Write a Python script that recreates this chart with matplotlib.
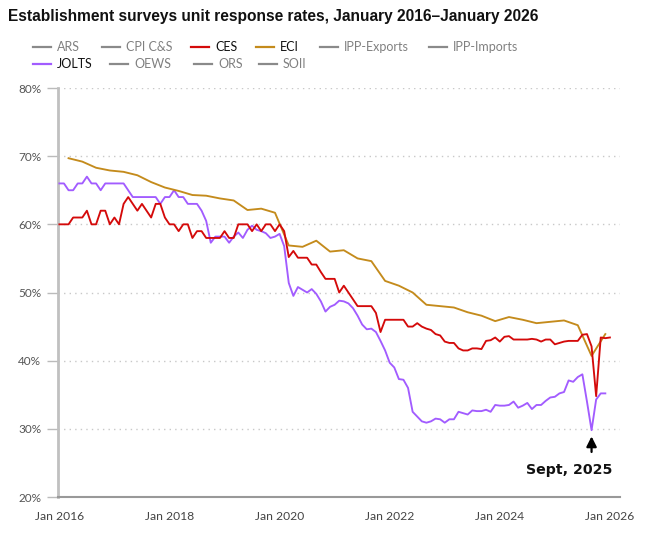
import matplotlib
matplotlib.use("Agg")
import matplotlib.pyplot as plt
from matplotlib.lines import Line2D
import numpy as np

# ---------------- data (month index 0 = Jan 2016) ----------------
jolts = [66, 66, 65, 65, 66, 66, 67, 66, 66, 65, 66, 66, 66, 66, 66, 65,
         64, 64, 64, 64, 64, 64, 63, 64, 64, 65, 64, 64, 63, 63, 63, 62,
         60.5, 57.3, 58.2, 58.2, 58.2, 57.3, 58.2, 58.8, 58.0, 59.2, 59.8, 59.2, 59.0, 58.7,
         58.0, 58.2, 58.6, 56.8, 51.4, 49.5, 50.8, 50.4, 50.0, 50.5, 49.8, 48.7,
         47.2, 47.9, 48.2, 48.8, 48.7, 48.4, 47.7, 46.6, 45.3, 44.6, 44.7, 44.2,
         42.9, 41.5, 39.7, 39.0, 37.3, 37.2, 36.0, 32.5, 31.8, 31.1, 30.9, 31.1,
         31.5, 31.4, 30.9, 31.4, 31.4, 32.5, 32.3, 32.1, 32.7, 32.6, 32.6, 32.8,
         32.5, 33.5, 33.4, 33.4, 33.5, 34.0, 33.1, 33.4, 33.8, 32.9, 33.5, 33.5,
         34.1, 34.6, 34.7, 35.2, 35.4, 37.1, 36.9, 37.6, 38.0, 34.0, 29.8, 34.3,
         35.2, 35.2]

ces = [60, 60, 60, 61, 61, 61, 62, 60, 60, 62, 62, 60, 61, 60, 63, 64,
       63, 62, 63, 62, 61, 63, 63, 61, 60, 60, 59, 60, 60, 58, 59, 59,
       58, 58, 58, 58, 59, 58, 58, 60, 60, 60, 59, 60, 59, 60, 60, 59,
       60, 59, 55.2, 56.1, 55.1, 55.1, 55.1, 54.1, 54.1, 53.0, 52.0, 52.0,
       52.0, 50.0, 51.0, 50.0, 49.0, 48.0, 48.0, 48.0, 48.0, 47.0, 44.2, 46.0,
       46.0, 46.0, 46.0, 46.0, 45.0, 45.0, 45.5, 45.0, 44.7, 44.5, 43.9, 43.7,
       42.8, 42.6, 42.6, 41.8, 41.5, 41.5, 41.8, 41.8, 41.7, 42.9, 43.0, 43.4,
       42.8, 43.5, 43.6, 43.1, 43.1, 43.1, 43.1, 43.2, 43.1, 42.8, 43.1, 43.1,
       42.4, 42.6, 42.8, 42.9, 42.9, 42.9, 43.8, 43.9, 42.1, 34.8, 43.4, 43.3,
       43.4]

eci_months = [2, 5, 8, 11, 14, 17, 20, 23, 26, 29, 32, 35, 38, 41, 44, 47,
              50, 53, 56, 59, 62, 65, 68, 71, 74, 77, 80, 83, 86, 89, 92, 95,
              98, 101, 104, 107, 110, 113, 116, 119]
eci = [69.7, 69.2, 68.3, 67.9, 67.7, 67.2, 66.2, 65.4, 64.9, 64.3, 64.2, 63.8,
       63.5, 62.1, 62.3, 61.7, 56.9, 56.7, 57.6, 56.0, 56.2, 55.0, 54.6, 51.7,
       51.0, 50.0, 48.2, 48.0, 47.8, 47.1, 46.6, 45.8, 46.4, 46.0, 45.5, 45.7,
       45.9, 45.2, 40.7, 43.9]

tick_months = [0, 24, 48, 72, 96, 120]
tick_labels = ["Jan 2016", "Jan 2018", "Jan 2020", "Jan 2022", "Jan 2024", "Jan 2026"]
y_ticks = [20, 30, 40, 50, 60, 70, 80]

legend_row1 = ["ARS", "CPI C&S", "CES", "ECI", "IPP-Exports", "IPP-Imports"]
legend_row2 = ["JOLTS", "OEWS", "ORS", "SOII"]

C_CES = "#d40a0a"
C_ECI = "#c48b1c"
C_JOLTS = "#a25cff"
C_GRAY = "#8a8a8a"

FONT = "Lato"

# ---------------- figure ----------------
W, H = 650, 536
fig = plt.figure(figsize=(W / 100, H / 100), dpi=100)

def fx(x):
    return x / W

def fy(y):
    return 1 - y / H

ax = fig.add_axes([fx(58), fy(497), fx(620) - fx(58), fy(88) - fy(497)])

LW = 1.35
ax.plot(range(len(jolts)), jolts, color=C_JOLTS, lw=LW, zorder=3)
ax.plot(range(len(ces)), ces, color=C_CES, lw=LW, zorder=4)
ax.plot(eci_months, eci, color=C_ECI, lw=LW, zorder=3)

ax.set_xlim(-0.3, 122.2)
ax.set_ylim(20, 80)
ax.set_yticks(y_ticks)
ax.set_yticklabels([f"{v}%" for v in y_ticks], fontsize=8.5, color="#555555", family=FONT)
ax.set_xticks(tick_months)
ax.set_xticklabels(tick_labels, fontsize=8.7, color="#444444", family=FONT)
ax.tick_params(axis="x", length=0, pad=10)
ax.tick_params(axis="y", length=8, color="#bbbbbb", width=1, pad=4)

for v in y_ticks[1:]:
    ax.axhline(v, color="#c8c8c8", lw=1, ls=(0, (1, 3)), zorder=1)

for s in ["top", "right"]:
    ax.spines[s].set_visible(False)
ax.spines["left"].set_color("#c0c0c0")
ax.spines["left"].set_linewidth(2)
ax.spines["bottom"].set_color("#999999")
ax.spines["bottom"].set_linewidth(1.5)

# annotation
ax.annotate("", xy=(116, 29.3), xytext=(116, 26.2),
            arrowprops=dict(arrowstyle="-|>,head_length=0.6,head_width=0.3",
                            color="black", lw=1.6))
ax.text(111.2, 23.9, "Sept, 2025", ha="center", va="center", fontsize=10.2,
        fontweight="bold", family="DejaVu Sans", color="#111111")

# title
fig.text(fx(8), fy(17), "Establishment surveys unit response rates, January 2016\u2013January 2026",
         ha="left", va="center", fontsize=11.2, fontweight="bold",
         family="Liberation Sans", color="#111111")

# legend
row1_x = [33, 102, 191, 256, 320, 429]
row2_x = [33, 110, 194, 259]
active = {"CES": C_CES, "ECI": C_ECI, "JOLTS": C_JOLTS}

def legend_item(name, x, y):
    col = active.get(name, C_GRAY)
    tcol = "#111111" if name in active else "#808080"
    fig.add_artist(Line2D([fx(x), fx(x + 18)], [fy(y), fy(y)], color=col, lw=1.6,
                          transform=fig.transFigure))
    fig.text(fx(x + 24), fy(y), name, ha="left", va="center", fontsize=9,
             family=FONT, color=tcol)

for n, x in zip(legend_row1, row1_x):
    legend_item(n, x, 47)
for n, x in zip(legend_row2, row2_x):
    legend_item(n, x, 64)

fig.savefig("out.png", dpi=100)
